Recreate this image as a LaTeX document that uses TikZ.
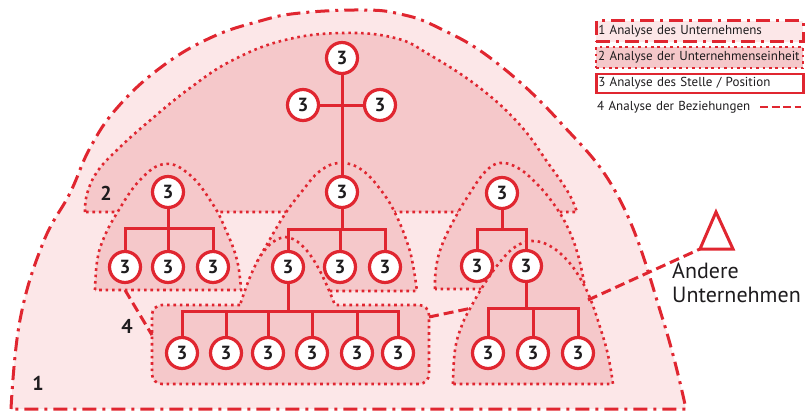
\documentclass[tikz,border=0pt]{standalone}
\usepackage{fontspec}
\setmainfont{PT Sans}
\usetikzlibrary{calc}
\definecolor{rot}{RGB}{224,38,48}
\definecolor{hell}{RGB}{252,231,232}
\definecolor{mittel}{RGB}{245,200,202}
\definecolor{schrift}{RGB}{30,28,30}

\begin{document}
\begin{tikzpicture}[x=1pt, y=-1pt,
    stelle/.style={circle, draw=rot, line width=3.2pt, fill=white, minimum size=31pt, inner sep=0pt,
        text=schrift, font=\bfseries\fontsize{19}{19}\selectfont},
    ast/.style={draw=rot, line width=3pt},
    unternehmen/.style={draw=rot, fill=hell, line width=3pt, dash pattern=on 14pt off 6pt on 3pt off 6pt},
    einheit/.style={draw=rot, fill=mittel, line width=2.6pt, dash pattern=on 2.6pt off 3.8pt},
    beziehung/.style={draw=rot, line width=3pt, dash pattern=on 10pt off 5pt},
    nummer/.style={text=schrift, font=\bfseries\fontsize{20}{20}\selectfont},
    legende/.style={anchor=west, text width=203pt, align=left, minimum height=21pt, inner xsep=2pt,
        text=schrift, font=\fontsize{13}{14}\selectfont}]
    \useasboundingbox (0,0) rectangle (807,413);

    % 1 Unternehmen (outer dome)
    \draw[unternehmen] plot[smooth, tension=0.7] coordinates {(11,409) (20,320) (43,243) (70,193) (90,148) (117,108)
        (160,68) (210,38) (260,21) (300,13) (363,10) (400,14) (437,27) (493,60) (560,122) (620,200) (663,320) (686,409)} -- cycle;

    % 2 Unternehmenseinheit
    \draw[einheit] plot[smooth, tension=0.7] coordinates {(85,212) (87,194) (97,172) (117,150) (147,123) (190,88)
        (233,60) (285,40) (343,33) (395,38) (430,55) (480,88) (520,125) (548,163) (568,192) (577,212)} -- cycle;

    % sub-units
    \draw[einheit] plot[smooth, tension=0.7] coordinates {(95,290) (97,262) (103,240) (117,213) (140,180) (165,164)
        (190,175) (212,203) (225,228) (237,260) (241,290)} -- cycle;
    \draw[einheit] plot[smooth, tension=0.7] coordinates {(257,262) (266,246) (285,214) (303,190) (320,171) (340,163)
        (362,170) (383,193) (397,217) (408,245) (413,265) (417,291)} -- (326,291) -- (290,275) -- cycle;
    \draw[einheit] plot[smooth, tension=0.7] coordinates {(435,289) (436,268) (442,245) (455,218) (470,193) (485,172)
        (500,163) (518,168) (535,182) (553,203) (568,228) (578,255) (584,282)} -- (540,300) -- (495,289) -- cycle;

    % lower groups
    \draw[einheit] (240,305) [rounded corners=10pt] -- (152,305) -- (152,384) -- (429,384) -- (429,305) [sharp corners]
        -- (335,305) .. controls (325,280) and (308,238) .. (285,237) .. controls (262,240) and (250,275) .. (240,305) -- cycle;
    \draw[einheit] plot[smooth, tension=0.7] coordinates {(453,384) (455,350) (462,325) (472,305) (485,283) (500,262)
        (515,247) (532,241) (550,246) (567,260) (580,278) (590,298) (600,327) (608,355) (613,384)} -- cycle;

    % Beziehungen
    \coordinate (ldome) at (125,290);
    \coordinate (boxl) at (152,335);
    \coordinate (boxr) at (429,317);
    \coordinate (rgrl) at (472,308);
    \coordinate (rgrr) at (588,300);
    \coordinate (andl) at (700,249);
    \draw[beziehung] (ldome) -- (boxl);
    \draw[beziehung] (boxr) -- (rgrl);
    \draw[beziehung] (rgrr) -- (andl);

    % Andere Unternehmen
    \draw[ast, line join=miter] (andl) -- (716,212) -- (733,249) -- cycle;
    \node[anchor=north west, align=left, inner sep=0pt, text=schrift, font=\fontsize{22}{24}\selectfont]
        (andere) at (672,263) {Andere\\Unternehmen};

    % Stellen
    \node[stelle] (t) at (342,58) {3};
    \node[stelle] (tl) at (303,105) {3};
    \node[stelle] (tr) at (380,105) {3};
    \node[stelle] (m) at (342,192) {3};
    \draw[ast] (t) -- (m);
    \draw[ast] (tl) -- (tr);

    \node[stelle] (m1) at (288,267) {3};
    \node[stelle] (m2) at (340,267) {3};
    \node[stelle] (m3) at (385,267) {3};
    \draw[ast] (m) -- ++(0,37) coordinate (mb);
    \draw[ast] (m1) |- (mb) -| (m3);
    \draw[ast] (m2) -- (m2 |- mb);

    \node[stelle] (l) at (168,192) {3};
    \node[stelle] (l1) at (125,267) {3};
    \node[stelle] (l2) at (168,267) {3};
    \node[stelle] (l3) at (213,267) {3};
    \draw[ast] (l) -- ++(0,36) coordinate (lb);
    \draw[ast] (l1) |- (lb) -| (l3);
    \draw[ast] (l2) -- (l2 |- lb);

    \node[stelle] (r) at (502,193) {3};
    \node[stelle] (r1) at (477,266) {3};
    \node[stelle] (r2) at (526,266) {3};
    \draw[ast] (r) -- ++(0,36) coordinate (rb);
    \draw[ast] (r1) |- (rb) -| (r2);

    \foreach \x [count=\i] in {182,226,268,312,357,398}
        \node[stelle] (b\i) at (\x,353) {3};
    \draw[ast] (m1) -- ++(0,44) coordinate (bb);
    \draw[ast] (b1) |- (bb) -| (b6);
    \foreach \i in {2,...,5}
        \draw[ast] (b\i) -- (b\i |- bb);

    \node[stelle] (s1) at (488,353) {3};
    \node[stelle] (s2) at (533,353) {3};
    \node[stelle] (s3) at (578,353) {3};
    \draw[ast] (r2) -- ++(0,42) coordinate (sb);
    \draw[ast] (s1) |- (sb) -| (s3);
    \draw[ast] (s2) -- (s2 |- sb);

    % numbers
    \node[nummer] (n1) at (38,383) {1};
    \node[nummer] (n2) at (106,193) {2};
    \node[nummer] (n4) at (127,326) {4};

    % legend
    \node[legende, unternehmen, line width=2.5pt] (leg1) at (595,31) {\mbox{1 Analyse des Unternehmens}};
    \node[legende, einheit, line width=2.4pt] (leg2) at (595,57.5) {\mbox{2 Analyse der Unternehmenseinheit}};
    \node[legende, draw=rot, fill=white, line width=2.5pt, minimum height=19pt] (leg3) at (595,83.5) {\mbox{3 Analyse des Stelle / Position}};
    \node[legende, text width=160pt] (leg4) at (595,107) {\mbox{4 Analyse der Beziehungen}};
    \coordinate (leg4a) at (760,107);
    \coordinate (leg4b) at (801,107);
    \draw[beziehung, line width=2.5pt, dash pattern=on 8pt off 3.5pt] (leg4a) -- (leg4b);
\end{tikzpicture}
\end{document}
